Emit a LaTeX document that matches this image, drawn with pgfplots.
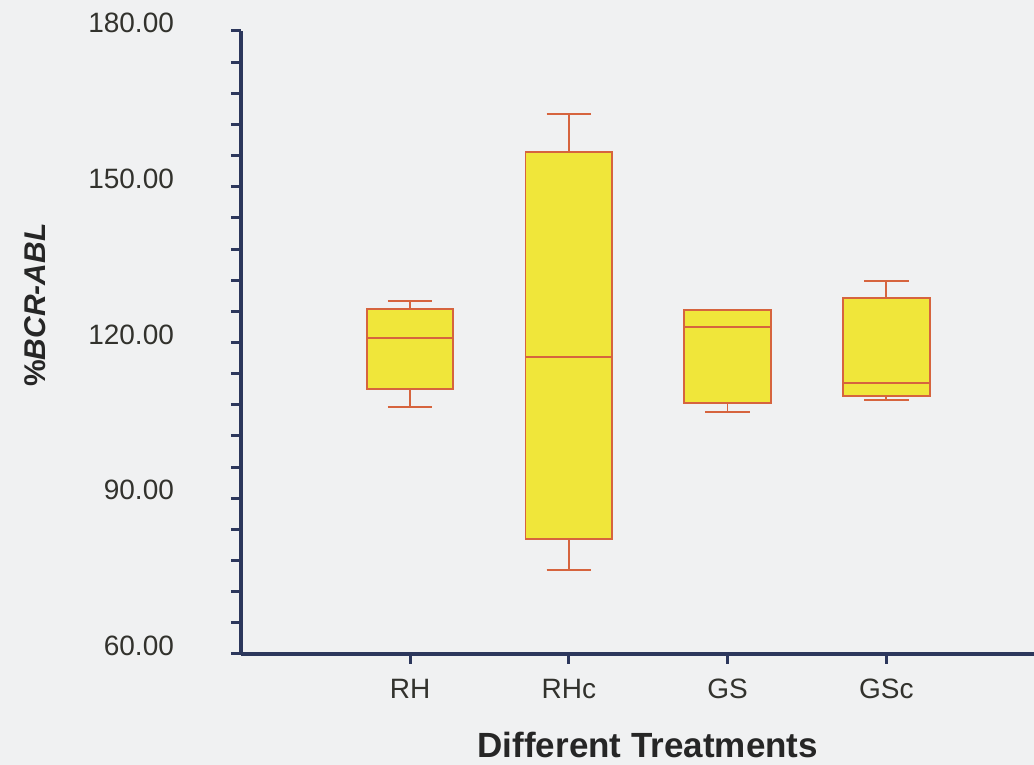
\documentclass[border=0pt]{standalone}
\usepackage{pgfplots}
\pgfplotsset{compat=1.18}
\usepgfplotslibrary{statistics}
\usepackage{fontspec}
\setmainfont{Liberation Sans}
\definecolor{bgc}{RGB}{240,241,242}
\definecolor{navy}{RGB}{44,55,92}
\definecolor{boxfill}{RGB}{240,230,58}
\definecolor{boxline}{RGB}{214,100,62}
\definecolor{txt}{RGB}{50,50,45}
\begin{document}
\begin{tikzpicture}
\fill[bgc] (0,0) rectangle (517pt,382.5pt);
\useasboundingbox (0,0) rectangle (517pt,382.5pt);
\begin{axis}[
  at={(120.5pt,55.5pt)}, anchor=south west,
  scale only axis, width=396.5pt, height=311.5pt,
  xmin=-0.065, xmax=4.93, ymin=60, ymax=180,
  axis x line*=bottom, axis y line*=left,
  axis line style={-, line width=2.3pt, color=navy},
  xtick={1,2,3,4}, xticklabels={RH,RHc,GS,GSc},
  ytick={60,90,120,150,180}, minor y tick num=4,
  tick align=outside,
  major tick length=5pt, minor tick length=5pt,
  every tick/.style={line width=1.5pt, navy},
  y tick label style={/pgf/number format/.cd, fixed, fixed zerofill, precision=2, /tikz/.cd},
  /pgf/number format/assume math mode=true,
  yticklabel style={font=\fontsize{14}{16}\selectfont, text=txt, xshift=-25pt, yshift=4pt},
  xticklabel style={font=\fontsize{14}{16}\selectfont, text=txt, yshift=-4pt},
  xlabel={\textbf{Different Treatments}},
  ylabel={\textbf{\%\textit{BCR-ABL}}},
  xlabel style={font=\fontsize{17.5}{19}\selectfont, text=black!85, at={(axis description cs:0.513,-0.146)}, anchor=center},
  ylabel style={font=\fontsize{15}{16}\selectfont, text=black!85, at={(axis description cs:-0.26,0.56)}, anchor=center},
  boxplot/draw direction=y,
  boxplot/box extend=0.545,
  boxplot/whisker extend=0.28,
  clip=false,
]
\addplot[draw=boxline, fill=boxfill, line width=0.9pt, boxplot prepared={draw position=1,
  lower whisker=107.6, lower quartile=111.1, median=120.9, upper quartile=126.5, upper whisker=128.0}]
  coordinates {};
\addplot[draw=boxline, fill=boxfill, line width=0.9pt, boxplot prepared={draw position=2,
  lower whisker=76.2, lower quartile=82.2, median=117.2, upper quartile=156.7, upper whisker=164.0}]
  coordinates {};
\addplot[draw=boxline, fill=boxfill, line width=0.9pt, boxplot prepared={draw position=3,
  lower whisker=106.6, lower quartile=108.4, median=123.0, upper quartile=126.3, upper whisker=126.3}]
  coordinates {};
\addplot[draw=boxline, fill=boxfill, line width=0.9pt, boxplot prepared={draw position=4,
  lower whisker=108.9, lower quartile=109.7, median=112.2, upper quartile=128.6, upper whisker=131.9}]
  coordinates {};
\end{axis}
\end{tikzpicture}
\end{document}
